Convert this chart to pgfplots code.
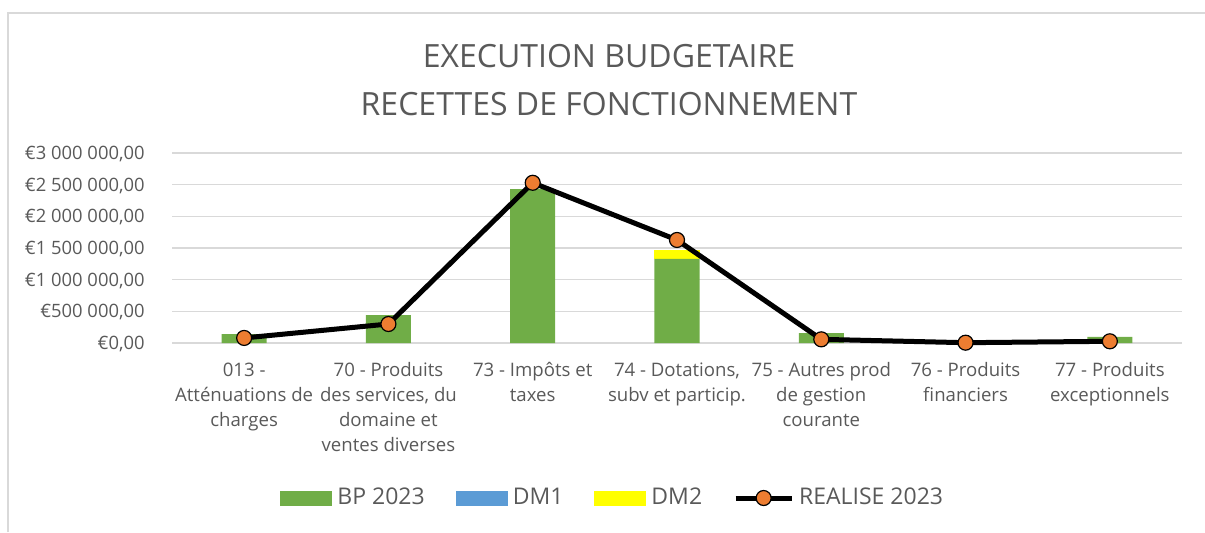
\documentclass[border=0pt]{standalone}
\usepackage{fontspec}
\setmainfont{Open Sans}
\usepackage{pgfplots}
\pgfplotsset{compat=1.18}

\definecolor{bpgreen}{HTML}{70AD47}
\definecolor{dmblue}{HTML}{5B9BD5}
\definecolor{dmyellow}{HTML}{FFFF00}
\definecolor{realorange}{HTML}{ED7D31}
\definecolor{textgray}{HTML}{595959}
\definecolor{gridgray}{HTML}{D9D9D9}

\pgfplotsset{
  budget/.style={
    at={(86pt,-171.5pt)}, anchor=south west,
    scale only axis, width=505pt, height=95pt,
    xmin=-0.5, xmax=6.5, ymin=0, ymax=3000000,
    clip=false,
  }
}

\begin{document}
\begin{tikzpicture}
\path[use as bounding box] (0,0) rectangle (602.5pt,-266pt);
\draw[gridgray, line width=0.75pt] (4pt,-266pt) -- (4pt,-6.5pt) -- (602.5pt,-6.5pt);

\node[anchor=base, text=textgray, font=\fontsize{16}{18}\selectfont] at (304.5pt,-33.5pt) {EXECUTION BUDGETAIRE};
\node[anchor=base, text=textgray, font=\fontsize{16}{18}\selectfont] at (304.5pt,-57.5pt) {RECETTES DE FONCTIONNEMENT};

% bars
\begin{axis}[budget,
    ybar stacked, bar width=22.5pt,
    axis line style={draw=none},
    major tick length=0pt,
    scaled y ticks=false,
    ymajorgrids, major grid style={gridgray, line width=0.75pt},
    ytick={0,500000,1000000,1500000,2000000,2500000,3000000},
    yticklabels={{€0,00},{€500 000,00},{€1 000 000,00},{€1 500 000,00},{€2 000 000,00},{€2 500 000,00},{€3 000 000,00}},
    yticklabel style={anchor=base east, inner sep=0pt, xshift=-13.5pt, yshift=-3.3pt,
      text=textgray, font=\fontsize{9.2}{11}\selectfont},
    xtick={0,...,6},
    xticklabels={
      {\strut 013 -\\Atténuations de\\charges},
      {\strut 70 - Produits\\des services, du\\domaine et\\ventes diverses},
      {\strut 73 - Impôts et\\taxes},
      {\strut 74 - Dotations,\\subv et particip.},
      {\strut 75 - Autres prod\\de gestion\\courante},
      {\strut 76 - Produits\\financiers},
      {\strut 77 - Produits\\exceptionnels}},
    xticklabel style={anchor=north, inner sep=0pt, yshift=-7.75pt, align=center,
      text=textgray, font=\fontsize{9.3}{12.5}\selectfont},
  ]
\addplot[fill=bpgreen, draw=none] coordinates {(0,142000) (1,440000) (2,2430000) (3,1327000) (4,158000) (5,0) (6,95000)};
\addplot[fill=dmblue, draw=none] coordinates {(0,0) (1,0) (2,0) (3,0) (4,0) (5,0) (6,0)};
\addplot[fill=dmyellow, draw=none] coordinates {(0,0) (1,0) (2,0) (3,143000) (4,0) (5,0) (6,0)};
\end{axis}

% realised line + legend
\begin{axis}[budget,
    hide axis,
    legend columns=-1,
    legend style={at={(0.107,-0.8158)}, anchor=west, draw=none, fill=none, inner sep=0pt,
      nodes={inner sep=0pt, text=textgray}, font=\fontsize{11.5}{13}\selectfont,
      /tikz/every odd column/.append style={column sep=2.5pt},
      /tikz/every even column/.append style={column sep=15.5pt}},
  ]
\addlegendimage{fill=bpgreen, draw=none, legend image code/.code={\fill (0pt,-3.75pt) rectangle (26pt,3.75pt);}}
\addlegendentry{BP 2023}
\addlegendimage{fill=dmblue, draw=none, legend image code/.code={\fill (0pt,-3.75pt) rectangle (26pt,3.75pt);}}
\addlegendentry{DM1}
\addlegendimage{fill=dmyellow, draw=none, legend image code/.code={\fill (0pt,-3.75pt) rectangle (26pt,3.75pt);}}
\addlegendentry{DM2}
\addplot[black, line width=2.5pt, mark=*, mark size=3.75pt,
    mark options={fill=realorange, draw=black, line width=0.6pt},
    legend image code/.code={\draw[mark repeat=2, mark phase=2] plot coordinates {(0pt,0pt) (14pt,0pt) (28pt,0pt)};}]
  coordinates {(0,80000) (1,300000) (2,2530000) (3,1627000) (4,58000) (5,5000) (6,27000)};
\addlegendentry{REALISE 2023}
\end{axis}
\end{tikzpicture}
\end{document}
